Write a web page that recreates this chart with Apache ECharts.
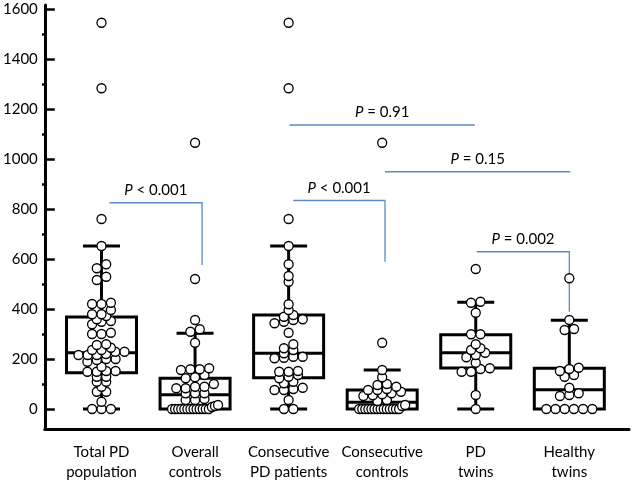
<!DOCTYPE html>
<html><head><meta charset="utf-8">
<script src="https://cdn.jsdelivr.net/npm/echarts@6/dist/echarts.min.js"></script>
<style>html,body{margin:0;padding:0;background:#fff}#c{width:633px;height:484px}</style>
</head><body><div id="c"></div>
<script>
const categories = ['Total PD\npopulation', 'Overall\ncontrols', 'Consecutive\nPD patients', 'Consecutive\ncontrols', 'PD\ntwins', 'Healthy\ntwins'];

const totalPD = [1545, 1283, 760, 652, 579, 563, 529, 516, 425, 420, 420, 396, 379, 379, 372, 359, 352, 349, 339, 305, 300, 300, 259, 256, 245, 236, 236, 229, 229, 220, 216, 216, 216, 200, 200, 196, 189, 169, 152, 152, 149, 149, 129, 129, 109, 109, 89, 69, 69, 29, 0, 0, 0];
const overallControls = [1065, 520, 356, 319, 309, 265, 163, 159, 159, 156, 136, 127, 123, 100, 89, 89, 83, 83, 63, 63, 63, 40, 36, 36, 16, 12, 8, 0, 0, 0, 0, 0, 0, 0, 0, 0, 0, 0, 0, 0];
const consecPD = [1545, 1283, 760, 652, 579, 532, 509, 419, 396, 376, 369, 359, 356, 349, 343, 305, 259, 243, 236, 223, 209, 209, 205, 203, 152, 149, 149, 136, 129, 123, 109, 103, 85, 80, 76, 76, 36, 0, 0];
const consecControls = [1065, 265, 156, 127, 100, 96, 89, 80, 76, 76, 69, 63, 59, 55, 52, 36, 32, 16, 12, 0, 0, 0, 0, 0, 0, 0, 0, 0, 0, 0, 0, 0, 0];
const pdTwins = [560, 429, 425, 385, 299, 299, 259, 243, 236, 225, 216, 207, 185, 163, 160, 149, 149, 56, 0];
const healthyTwins = [523, 356, 320, 316, 165, 160, 152, 136, 129, 85, 63, 56, 52, 0, 0, 0, 0, 0, 0];
const groups = [totalPD, overallControls, consecPD, consecControls, pdTwins, healthyTwins];

// box statistics: [min, q1, median, q3, max]
const boxStats = [
  [0, 145, 225, 368, 652],
  [0, 0, 57, 123, 303],
  [0, 125, 223, 376, 652],
  [0, 0, 27, 76, 156],
  [0, 164, 225, 297, 427],
  [0, 0, 77, 163, 355]
];

const yTicks = [0, 200, 400, 600, 800, 1000, 1200, 1400, 1600];
const yMinorTicks = [100, 300, 500, 700, 900, 1100, 1300, 1500];

// significance brackets
const bracketFrom = [1.085, 3.05, 3.01, 4.03, 5.01];
const bracketTo = [2.075, 4.03, 4.99, 6.01, 6.0];
const bracketY = [825, 834, 1136, 949, 629];
const bracketDrop = [576, 589, null, null, 389];
const bracketText = ['< 0.001', '< 0.001', '= 0.91', '= 0.15', '= 0.002'];

const FONT = 'Lato';
const BLUE = '#5b8bc5';
const GRID = {left: 42, right: 4, top: 5, bottom: 55};
const chart = echarts.init(document.getElementById('c'), null, {renderer: 'canvas'});
const gridW = 633 - GRID.left - GRID.right;

const option = {
  animation: false,
  backgroundColor: '#fff',
  grid: GRID,
  xAxis: {
    type: 'value', min: 0.394, max: 6.638,
    axisLine: {show: true, onZero: false, lineStyle: {color: '#000', width: 3}},
    axisTick: {show: false}, splitLine: {show: false},
    axisLabel: {customValues: [1, 2, 3, 4, 5, 6], formatter: v => categories[Math.round(v) - 1],
      color: '#000', fontFamily: FONT, fontSize: 15, lineHeight: 20, margin: 13}
  },
  yAxis: [{
    type: 'value', min: -80, max: 1616, position: 'left',
    axisLine: {show: true, onZero: false, lineStyle: {color: '#000', width: 3}},
    axisTick: {show: true, inside: true, length: 10, customValues: yTicks, lineStyle: {color: '#000', width: 2.5}},
    axisLabel: {customValues: yTicks, formatter: v => String(v), color: '#000', fontFamily: FONT, fontSize: 15, margin: 7},
    splitLine: {show: false}
  }, {
    type: 'value', min: -80, max: 1616, position: 'right', offset: -gridW,
    axisLine: {show: false, onZero: false},
    axisTick: {show: true, inside: false, length: 5, customValues: yMinorTicks, lineStyle: {color: '#000', width: 2.5}},
    axisLabel: {show: false}, splitLine: {show: false}
  }],
  series: [
    {
      id: 'brackets', type: 'custom', z: 1, silent: true,
      data: bracketY.map((y, i) => [bracketFrom[i], bracketTo[i], y]),
      encode: {x: [0, 1], y: 2},
      renderItem: function (params, api) {
        const i = params.dataIndex;
        const a = api.coord([bracketFrom[i], bracketY[i]]);
        const b = api.coord([bracketTo[i], bracketY[i]]);
        const pts = [a, b];
        if (bracketDrop[i] != null) pts.push(api.coord([bracketTo[i], bracketDrop[i]]));
        return {
          type: 'group',
          children: [
            {type: 'polyline', shape: {points: pts}, style: {stroke: BLUE, lineWidth: 1.3, fill: null}},
            {type: 'text', x: (a[0] + b[0]) / 2, y: a[1] - 12.5,
              style: {text: '{i|P} ' + bracketText[i], align: 'center', verticalAlign: 'middle',
                fill: '#000', fontFamily: FONT, fontSize: 15,
                rich: {i: {fontStyle: 'italic', fontFamily: FONT, fontSize: 15, fill: '#000'}}}}
          ]
        };
      }
    },
    {
      id: 'boxes', type: 'custom', z: 2, silent: true,
      data: boxStats.map((s, i) => [i + 1].concat(s)),
      encode: {x: 0, y: [1, 2, 3, 4, 5]},
      renderItem: function (params, api) {
        const x = api.value(0);
        const p = [1, 2, 3, 4, 5].map(k => api.coord([x, api.value(k)]));
        const cx = p[0][0], hw = 35, cw = 18.5;
        const st = {stroke: '#000', lineWidth: 3, fill: null};
        const ch = [
          {type: 'line', shape: {x1: cx, y1: p[3][1], x2: cx, y2: p[4][1]}, style: st},
          {type: 'line', shape: {x1: cx - cw, y1: p[4][1], x2: cx + cw, y2: p[4][1]}, style: st},
          {type: 'rect', shape: {x: cx - hw, y: p[3][1], width: 2 * hw, height: p[1][1] - p[3][1]}, style: st},
          {type: 'line', shape: {x1: cx - hw, y1: p[2][1], x2: cx + hw, y2: p[2][1]}, style: st}
        ];
        if (p[1][1] < p[0][1] - 0.5) {
          ch.push({type: 'line', shape: {x1: cx, y1: p[1][1], x2: cx, y2: p[0][1]}, style: st});
          ch.push({type: 'line', shape: {x1: cx - cw, y1: p[0][1], x2: cx + cw, y2: p[0][1]}, style: st});
        }
        return {type: 'group', children: ch};
      }
    },
    {
      id: 'pts', type: 'scatter', z: 3, silent: true, symbol: 'circle', symbolSize: 9,
      itemStyle: {color: '#fff', borderColor: '#000', borderWidth: 1.3, opacity: 1},
      data: []
    }
  ]
};
chart.setOption(option);

// row-binned scatter layout computed from the values
const D = 9.4, W = 46, BIN = 4.5;
const unitPx = chart.convertToPixel({xAxisIndex: 0}, 2) - chart.convertToPixel({xAxisIndex: 0}, 1);
const yPx = v => chart.convertToPixel({yAxisIndex: 0}, v);
function layout(vals) {
  const sorted = vals.slice().sort((a, b) => a - b);
  const rows = [];
  sorted.forEach(v => {
    const r = rows[rows.length - 1];
    if (r && yPx(r[0]) - yPx(v) <= BIN) r.push(v); else rows.push([v]);
  });
  const out = [];
  rows.forEach(r => {
    const n = r.length;
    const s = n > 1 ? Math.min(D, W / (n - 1)) : 0;
    r.forEach((v, j) => out.push({dx: (j - (n - 1) / 2) * s, v: v}));
  });
  return out;
}
const data = [];
groups.forEach((vals, gi) => {
  layout(vals).forEach(p => data.push([gi + 1 + p.dx / unitPx, p.v]));
});
chart.setOption({series: [{id: 'pts', data: data}]});
</script>
</body></html>
